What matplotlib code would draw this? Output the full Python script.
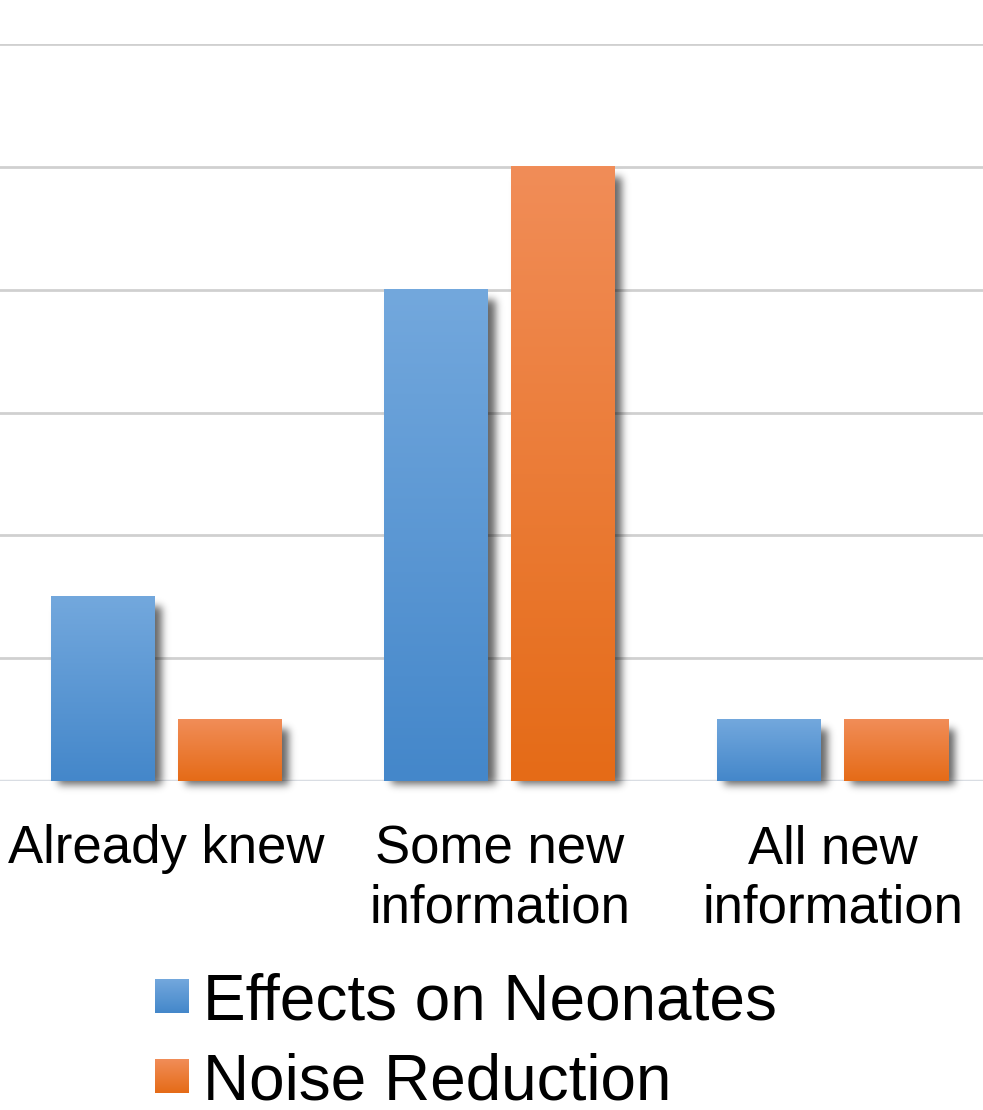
import math
import numpy as np
import matplotlib
matplotlib.use("Agg")
import matplotlib.pyplot as plt
from matplotlib.colors import LinearSegmentedColormap

plt.rcParams['font.family'] = ['Liberation Sans', 'DejaVu Sans']

# Survey responses per category
categories = ["Already knew", "Some new\ninformation", "All new\ninformation"]
series_names = ["Effects on Neonates", "Noise Reduction"]
neonates = [3, 8, 1]
noise = [1, 10, 1]
series_values = [neonates, noise]

# gradient colours (top, bottom) for each series
gradients = [("#73a8dd", "#4487ca"), ("#f18d58", "#e56b17")]

W, H = 983, 1110
fig = plt.figure(figsize=(W / 100, H / 100), dpi=100)

# axes span: x from -0.5 to 2.5 data units, y from 0 to 12
x_left_px, x_right_px = 0, 999
y_top_px, y_base_px = 44, 781
ax = fig.add_axes([x_left_px / W, 1 - y_base_px / H,
                   (x_right_px - x_left_px) / W, (y_base_px - y_top_px) / H])
ax.set_xlim(-0.5, 2.5)
ax.set_ylim(0, 12)

px_x = (x_right_px - x_left_px) / 3.0
px_y = (y_base_px - y_top_px) / 12.0

bar_w = 104 / px_x
gap = 23 / px_x
offsets = [-(bar_w + gap) / 2, (bar_w + gap) / 2]

for s in ax.spines.values():
    s.set_visible(False)
ax.set_yticks(np.arange(2, 13, 2))
ax.set_yticklabels([])
ax.tick_params(axis='y', length=0)
ax.grid(axis='y', color='#d0d0d0', linewidth=2, zorder=0)
ax.axhline(0, color='#d9dde3', linewidth=2.5, zorder=1)

x = np.arange(len(categories))
ax.set_xticks(x)
ax.set_xticklabels(categories, fontsize=38, linespacing=1.24)
ax.tick_params(axis='x', length=0, pad=31)

erf = np.vectorize(math.erf)


def blurred_box(a0, a1, grid, sigma):
    return 0.5 * (erf((grid - a0) / (math.sqrt(2) * sigma)) -
                  erf((grid - a1) / (math.sqrt(2) * sigma)))


def gradient_cmap(top, bottom):
    return LinearSegmentedColormap.from_list("g", [bottom, top])


grad = np.linspace(0, 1, 256).reshape(-1, 1)

for si, vals in enumerate(series_values):
    cmap = gradient_cmap(*gradients[si])
    bars = ax.bar(x + offsets[si], vals, width=bar_w, color='none',
                  edgecolor='none', zorder=3)
    for b in bars:
        x0, y0 = b.get_x(), b.get_y()
        x1, y1 = x0 + b.get_width(), y0 + b.get_height()
        # soft drop shadow, offset to the lower right
        sig = 4.0
        dx, dy = 7.0, 4.0
        pad = 4 * sig
        xs = np.linspace(-pad, (x1 - x0) * px_x + dx + pad, 200)
        ys = np.linspace(-pad - dy, (y1 - y0) * px_y + pad, 300)
        ax_ = blurred_box(dx, (x1 - x0) * px_x + dx, xs, sig)
        ay_ = blurred_box(-dy, (y1 - y0) * px_y - dy - 6, ys, sig)
        alpha = np.outer(ay_, ax_) * 0.6
        rgba = np.zeros(alpha.shape + (4,))
        rgba[..., 3] = alpha
        ax.imshow(rgba, origin='lower', aspect='auto', zorder=2,
                  extent=(x0 + xs[0] / px_x, x0 + xs[-1] / px_x,
                          y0 + ys[0] / px_y, y0 + ys[-1] / px_y),
                  interpolation='bilinear', clip_on=False)
        # gradient fill
        ax.imshow(grad, cmap=cmap, origin='lower', aspect='auto',
                  extent=(x0, x1, y0, y1), zorder=3, interpolation='bilinear')

ax.set_xlim(-0.5, 2.5)
ax.set_ylim(0, 12)

# legend below the plot
leg_rows = [996, 1076]
sq = 34
for si, name in enumerate(series_names):
    yc = leg_rows[si]
    lax = fig.add_axes([155 / W, 1 - (yc + sq / 2) / H, sq / W, sq / H])
    lax.imshow(grad, cmap=gradient_cmap(*gradients[si]), origin='lower',
               aspect='auto', extent=(0, 1, 0, 1))
    lax.axis('off')
    fig.text(203 / W, 1 - yc / H, name, fontsize=46, va='center_baseline',
             ha='left')

fig.savefig("out.png", dpi=100)
